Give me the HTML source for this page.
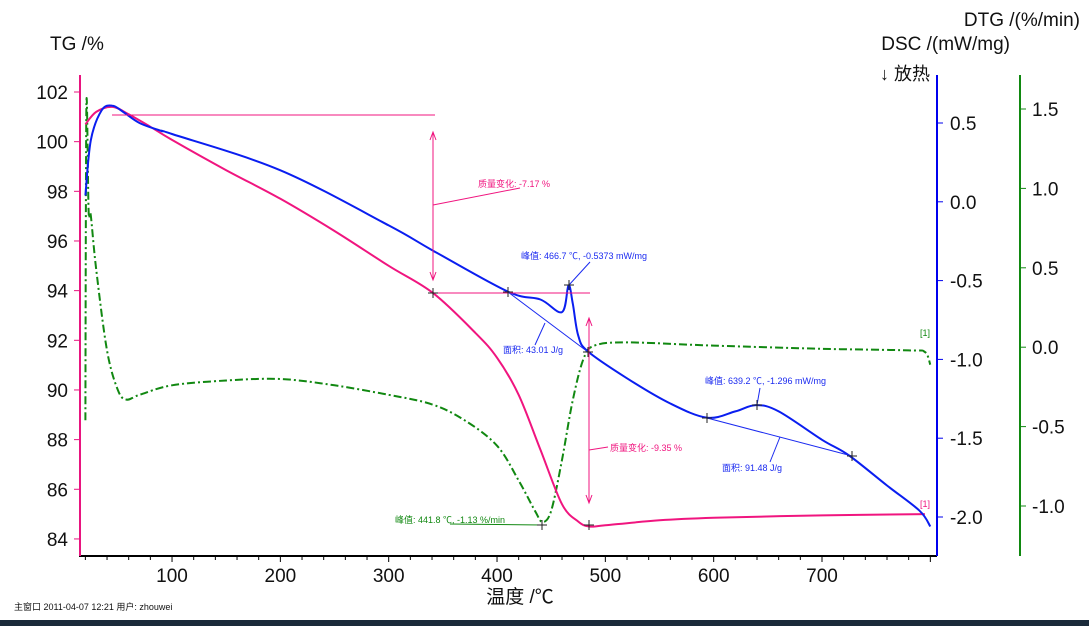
<!DOCTYPE html>
<html><head><meta charset="utf-8"><style>
html,body{margin:0;padding:0;background:#fff;}
svg{display:block;font-family:"Liberation Sans","Noto Sans CJK SC",sans-serif;}
</style></head><body>
<svg id="c" width="1089" height="626" viewBox="0 0 1089 626">
<rect width="1089" height="626" fill="#fff"/>
<g id="g"></g>
</svg>
<script>
const tempTicks=[100,200,300,400,500,600,700];
const tgTicks=[84,86,88,90,92,94,96,98,100,102];
const dscTicks=[0.5,0.0,-0.5,-1.0,-1.5,-2.0];
const dtgTicks=[1.5,1.0,0.5,0.0,-0.5,-1.0];
const tgT=[20,30,45,60,80,100,150,200,250,300,341,380,400,420,440,460,475,485,500,550,600,700,795];
const tgV=[100.7,101.2,101.4,101.1,100.6,100.07,98.85,97.7,96.4,95.0,93.9,92.3,91.3,89.8,87.6,85.4,84.7,84.5,84.55,84.75,84.85,84.95,85.0];
const dscT=[20,25,35,45,55,70,90,100,200,300,341,410,440,460,466,470,475,484,520,560,594,620,639,660,700,725,760,790,800];
const dscV=[0.04,0.39,0.58,0.61,0.57,0.5,0.45,0.43,0.2,-0.15,-0.31,-0.57,-0.62,-0.7,-0.53,-0.65,-0.85,-0.95,-1.12,-1.28,-1.37,-1.33,-1.29,-1.33,-1.51,-1.61,-1.8,-1.96,-2.06];
const dtgT=[20,21,23,25,30,40,50,58,70,100,150,200,250,300,340,370,400,420,435,442,450,460,470,480,490,520,600,700,780,795,800];
const dtgV=[-0.46,1.53,0.86,0.83,0.49,-0.02,-0.27,-0.33,-0.3,-0.24,-0.21,-0.2,-0.24,-0.3,-0.36,-0.46,-0.62,-0.84,-1.03,-1.1,-1.03,-0.71,-0.33,-0.07,0.01,0.03,0.01,-0.01,-0.02,-0.03,-0.11];
const X=t=>63.7+t*1.0833;
const Ytg=v=>92+(102-v)*24.83;
const Ydsc=v=>123+(0.5-v)*157.6;
const Ydtg=v=>109+(1.5-v)*158.8;
const NS='http://www.w3.org/2000/svg', g=document.getElementById('g');
function el(tag,a,txt){const e=document.createElementNS(NS,tag);for(const k in a)e.setAttribute(k,a[k]);if(txt!==undefined)e.textContent=txt;g.appendChild(e);return e;}
let e;
e=el('line',{x1:79,y1:556,x2:937,y2:556,stroke:'#000','stroke-width':2});

e=el('line',{x1:80,y1:75,x2:80,y2:556,stroke:'#e8147f','stroke-width':2});

e=el('line',{x1:937,y1:75,x2:937,y2:556,stroke:'#0000ee','stroke-width':2});

e=el('line',{x1:1020,y1:75,x2:1020,y2:556,stroke:'#118811','stroke-width':2});

for(let t=20;t<=800;t+=20){e=el('line',{x1:X(t),y1:556,x2:X(t),y2:t%100?560:562,stroke:'#000'});
}
tempTicks.forEach(t=>{e=el('text',{x:X(t),y:582,'font-size':19,'text-anchor':'middle',fill:'#111'},t);
});
tgTicks.forEach(v=>{e=el('line',{x1:74,y1:Ytg(v),x2:80,y2:Ytg(v),stroke:'#e8147f'});

e=el('text',{x:68,y:Ytg(v)+7,'font-size':19,'text-anchor':'end',fill:'#111'},v);
});
dscTicks.forEach(v=>{e=el('line',{x1:937,y1:Ydsc(v),x2:943,y2:Ydsc(v),stroke:'#0000ee'});

e=el('text',{x:950,y:Ydsc(v)+7,'font-size':19,fill:'#111'},v.toFixed(1));
});
dtgTicks.forEach(v=>{e=el('line',{x1:1020,y1:Ydtg(v),x2:1026,y2:Ydtg(v),stroke:'#118811'});

e=el('text',{x:1032,y:Ydtg(v)+7,'font-size':19,fill:'#111'},v.toFixed(1));
});
e=el('text',{x:50,y:50,'font-size':19,fill:'#111'},'TG /%');
e=el('text',{x:1010,y:50,'font-size':19,'text-anchor':'end',fill:'#111'},'DSC /(mW/mg)');
e=el('text',{x:1080,y:26,'font-size':19,'text-anchor':'end',fill:'#111'},'DTG /(%/min)');
e=el('text',{x:880,y:80,'font-size':18,fill:'#111'},'↓ 放热');
e=el('text',{x:520,y:603,'font-size':19,'text-anchor':'middle',fill:'#111'},'温度 /℃');
e=el('text',{x:14,y:610,'font-size':9,fill:'#111'},'主窗口    2011-04-07 12:21    用户: zhouwei');
e=el('rect',{x:0,y:620,width:1089,height:6,fill:'#1a2a3a'});
function path(T,V,Y){
  const p=T.map((t,i)=>[X(t),Y(V[i])]);
  let d='M'+p[0][0].toFixed(1)+','+p[0][1].toFixed(1);
  for(let i=0;i<p.length-1;i++){
    const p0=p[i-1]||p[i],p1=p[i],p2=p[i+1],p3=p[i+2]||p2;
    const c1=[p1[0]+(p2[0]-p0[0])/6,p1[1]+(p2[1]-p0[1])/6];
    const c2=[p2[0]-(p3[0]-p1[0])/6,p2[1]-(p3[1]-p1[1])/6];
    d+=` C${c1[0].toFixed(1)},${c1[1].toFixed(1)} ${c2[0].toFixed(1)},${c2[1].toFixed(1)} ${p2[0].toFixed(1)},${p2[1].toFixed(1)}`;
  }
  return d;
}
e=el('path',{d:path(dtgT,dtgV,Ydtg),fill:'none',stroke:'#118811','stroke-width':2,'stroke-dasharray':'8,3,2,3'});

e=el('path',{d:path(tgT,tgV,Ytg),fill:'none',stroke:'#f0157f','stroke-width':2});

e=el('path',{d:path(dscT,dscV,Ydsc),fill:'none',stroke:'#0a1ef0','stroke-width':2});

const P='#f0157f',B='#1a2af0',G='#118811';
function ln(x1,y1,x2,y2,c,w,n){e=el('line',{x1,y1,x2,y2,stroke:c,'stroke-width':w||1});}
function tx(x,y,s,c,n){e=el('text',{x,y,'font-size':9,fill:c},s);}
ln(112,115,435,115,P,1,'tg-step-top-line');ln(433,293,590,293,P,1,'tg-step-mid-line');
ln(433,132,433,280,P,1,'tg-step1-arrow');ln(589,318,589,503,P,1,'tg-step2-arrow');
[[433,132,-1],[433,280,1],[589,318,-1],[589,503,1]].forEach(a=>{e=el('path',{d:`M${a[0]-3},${a[1]-a[2]*8} L${a[0]},${a[1]} L${a[0]+3},${a[1]-a[2]*8}`,fill:'none',stroke:P});});
ln(433,205,520,188,P,1,'tg-step1-leader');tx(478,187,'质量变化: -7.17 %',P,'tg-step1-label');
ln(589,450,608,447,P,1,'tg-step2-leader');tx(610,451,'质量变化: -9.35 %',P,'tg-step2-label');
ln(508,292,588,352,B,1,'dsc-peak1-baseline');ln(707,418,852,456,B,1,'dsc-peak2-baseline');
ln(569,285,590,262,B,1,'dsc-peak1-leader');tx(521,259,'峰值: 466.7 ℃, -0.5373 mW/mg',B,'dsc-peak1-label');
ln(545,323,535,345,B,1,'dsc-area1-leader');tx(503,353,'面积: 43.01 J/g',B,'dsc-area1-label');
ln(757,405,760,388,B,1,'dsc-peak2-leader');tx(705,384,'峰值: 639.2 ℃, -1.296 mW/mg',B,'dsc-peak2-label');
ln(780,437,770,462,B,1,'dsc-area2-leader');tx(722,471,'面积: 91.48 J/g',B,'dsc-area2-label');
ln(450,524,542,525,G,1,'dtg-peak-leader');tx(395,523,'峰值: 441.8 ℃, -1.13 %/min',G,'dtg-peak-label');
[[433,293],[508,292],[569,285],[588,352],[542,525],[589,525],[707,418],[757,405],[852,456]].forEach(p=>{
e=el('path',{d:`M${p[0]-5},${p[1]} h10 M${p[0]},${p[1]-5} v10`,stroke:'#222','stroke-width':1});
});
tx(920,336,'[1]',G,'dtg-curve-id');tx(920,507,'[1]',P,'tg-curve-id');
</script>
</body></html>
